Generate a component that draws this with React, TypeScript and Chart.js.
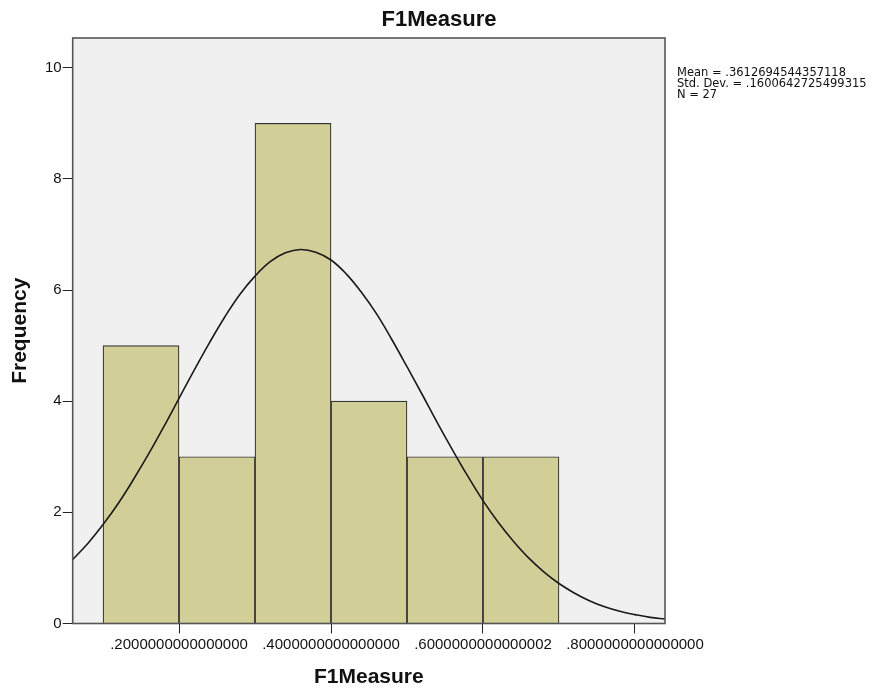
import React, { useEffect, useRef } from "react";
import { Chart, registerables } from "chart.js";

Chart.register(...registerables);

// ---- Data ----
const binCenters = [0.15, 0.25, 0.35, 0.45, 0.55, 0.65];
const frequencies = [5, 3, 9, 4, 3, 3];

// Normal curve
const curveX = [
  0.06, 0.08, 0.1, 0.12, 0.14, 0.16, 0.18, 0.2, 0.22, 0.24, 0.26, 0.28, 0.3, 0.32, 0.34, 0.36, 0.38, 0.4, 0.42, 0.44,
  0.46, 0.48, 0.5, 0.52, 0.54, 0.56, 0.58, 0.6, 0.62, 0.64, 0.66, 0.68, 0.7, 0.72, 0.74, 0.76, 0.78, 0.8, 0.82, 0.84,
];
const curveY = [
  1.15, 1.44, 1.78, 2.16, 2.59, 3.05, 3.54, 4.05, 4.56, 5.05, 5.51, 5.92, 6.25, 6.51, 6.67, 6.73, 6.68, 6.54, 6.29, 5.96,
  5.57, 5.11, 4.62, 4.12, 3.61, 3.12, 2.65, 2.21, 1.82, 1.48, 1.18, 0.93, 0.72, 0.55, 0.41, 0.3, 0.22, 0.16, 0.11, 0.08,
];

const xTickValues = [0.2, 0.4, 0.6, 0.8];
const xTickLabels = [".2000000000000000", ".4000000000000000", ".6000000000000002", ".8000000000000000"];
const yTickValues = [0, 2, 4, 6, 8, 10];

const chartTitle = "F1Measure";
const xAxisTitle = "F1Measure";
const yAxisTitle = "Frequency";
const statsLines = ["Mean = .3612694544357118", "Std. Dev. = .1600642725499315", "N = 27"];

const X_MIN = 0.0601;
const X_MAX = 0.8395;
const Y_MAX = 10.534;

const FONT = "'Liberation Sans', Arial, sans-serif";

const framePlugin = {
  id: "frame",
  beforeDatasetsDraw(chart: any) {
    const { ctx, chartArea } = chart;
    const { left, top, right, bottom } = chartArea;
    ctx.save();
    ctx.fillStyle = "#F0F0F0";
    ctx.fillRect(left, top, right - left, bottom - top);
    ctx.restore();
  },
  afterDraw(chart: any) {
    const { ctx, chartArea } = chart;
    const { left, top, right, bottom } = chartArea;
    ctx.save();
    ctx.strokeStyle = "#555555";
    ctx.lineWidth = 1.6;
    ctx.strokeRect(left, top, right - left, bottom - top);

    // title
    ctx.fillStyle = "#111111";
    ctx.font = `bold 22px ${FONT}`;
    ctx.textAlign = "center";
    ctx.textBaseline = "middle";
    ctx.fillText(chartTitle, 439, 20);

    // stats
    ctx.font = `11.5px 'DejaVu Sans', sans-serif`;
    ctx.textAlign = "left";
    ctx.textBaseline = "alphabetic";
    statsLines.forEach((s, i) => {
      ctx.fillText(s, right + 12, 76 + i * 11);
    });
    ctx.restore();
  },
};

export default function App() {
  const canvasRef = useRef<HTMLCanvasElement | null>(null);

  useEffect(() => {
    const canvas = canvasRef.current;
    if (!canvas) return;
    const chart = new Chart(canvas, {
      type: "bar",
      data: {
        datasets: [
          {
            type: "line",
            data: curveX.map((x, i) => ({ x, y: curveY[i] })),
            borderColor: "#1a1a1a",
            borderWidth: 1.6,
            pointRadius: 0,
            tension: 0.4,
            fill: false,
            order: 0,
          } as any,
          {
            type: "bar",
            data: binCenters.map((x, i) => ({ x, y: frequencies[i] })),
            backgroundColor: "#D2CE98",
            borderColor: "#333333",
            borderWidth: 1.2,
            barPercentage: 1,
            categoryPercentage: 1,
            order: 1,
          } as any,
        ],
      },
      options: {
        animation: false,
        responsive: false,
        devicePixelRatio: 1,
        events: [],
        layout: { padding: { left: 0, right: 207, top: 38, bottom: 0 } },
        plugins: {
          legend: { display: false },
          tooltip: { enabled: false },
          title: { display: false },
        },
        scales: {
          x: {
            type: "linear",
            min: X_MIN,
            max: X_MAX,
            offset: false,
            afterFit: (scale: any) => {
              scale.height = 69.5;
            },
            afterBuildTicks: (scale: any) => {
              scale.ticks = xTickValues.map((v) => ({ value: v }));
            },
            ticks: {
              autoSkip: false,
              maxRotation: 0,
              padding: 2,
              color: "#111111",
              font: { family: FONT, size: 15 },
              callback: (value: any) => {
                const idx = xTickValues.findIndex((v) => Math.abs(v - Number(value)) < 1e-9);
                return idx >= 0 ? xTickLabels[idx] : "";
              },
            },
            grid: {
              offset: false,
              drawOnChartArea: false,
              drawTicks: true,
              tickLength: 10,
              color: "#222222",
              lineWidth: 1,
            },
            border: { display: false },
            title: {
              display: true,
              text: xAxisTitle,
              color: "#111111",
              font: { family: FONT, size: 21, weight: "bold" },
              padding: { top: 0, bottom: 3.4 },
            },
          },
          y: {
            type: "linear",
            min: 0,
            max: Y_MAX,
            afterFit: (scale: any) => {
              scale.width = 72.7;
            },
            afterBuildTicks: (scale: any) => {
              scale.ticks = yTickValues.map((v) => ({ value: v }));
            },
            ticks: {
              padding: 1,
              color: "#111111",
              font: { family: FONT, size: 15 },
              callback: (value: any) => String(value),
            },
            grid: {
              drawOnChartArea: false,
              drawTicks: true,
              tickLength: 10,
              color: "#222222",
              lineWidth: 1,
            },
            border: { display: false },
            title: {
              display: true,
              text: yAxisTitle,
              color: "#111111",
              font: { family: FONT, size: 21, weight: "bold" },
              padding: { top: 7.4, bottom: 0 },
            },
          },
        },
      },
      plugins: [framePlugin],
    });
    return () => chart.destroy();
  }, []);

  return (
    <div style={{ position: "absolute", left: 0, top: 0, width: 872, height: 693, background: "#ffffff" }}>
      <canvas ref={canvasRef} width={872} height={693} style={{ display: "block", width: 872, height: 693 }} />
    </div>
  );
}
